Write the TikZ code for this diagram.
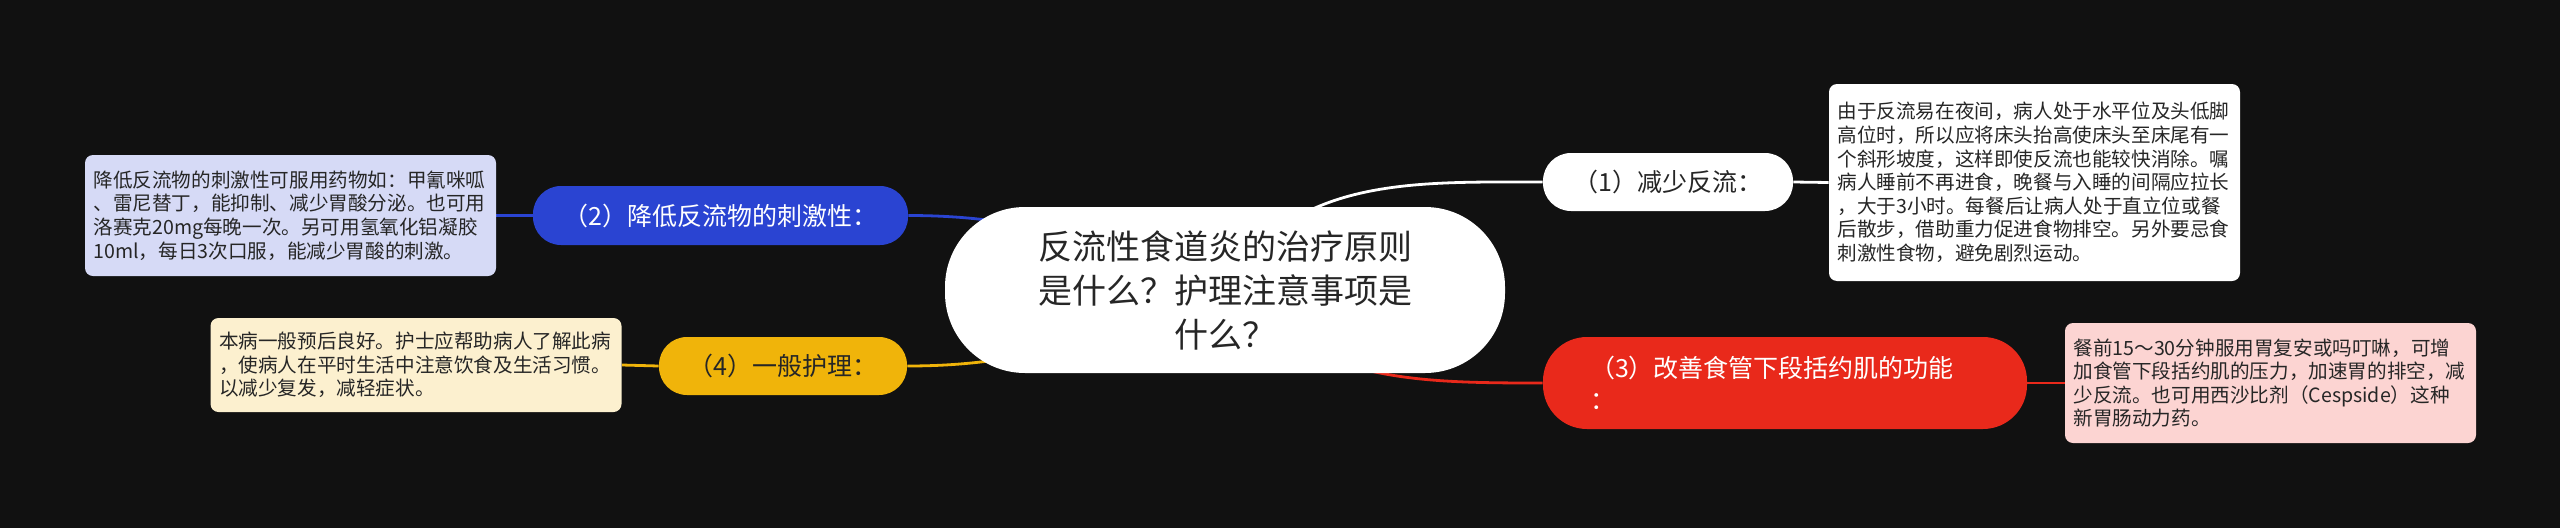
\documentclass[tikz,border=0pt]{standalone}
\usepackage{fontspec}
\setmainfont{Noto Sans CJK SC}
\usetikzlibrary{backgrounds}

\definecolor{bgdark}{HTML}{111111}
\definecolor{textdark}{HTML}{262626}
\definecolor{topicblue}{HTML}{2A44D2}
\definecolor{topicyellow}{HTML}{F0B40A}
\definecolor{topicred}{HTML}{E9291B}
\definecolor{noteblue}{HTML}{D6DAF6}
\definecolor{noteyellow}{HTML}{FCF0CF}
\definecolor{notered}{HTML}{FCD4D2}

\begin{document}
\begin{tikzpicture}[x=0.5pt, y=0.5pt]

        % Setup the styles for the nodes
        \tikzset{root style/.style={fill=white,
                                    text=textdark,
                                    rounded corners=40pt,
                                    inner sep=0pt,
                                    text width=190pt,
                                    align=center,
                                    minimum width=280pt,
                                    minimum height=83pt,
                                    font=\fontsize{17pt}{22pt}\selectfont},
                 topic style/.style={rounded corners=14pt,
                                     inner sep=0pt,
                                     minimum height=29pt,
                                     font=\fontsize{12.5pt}{16pt}\selectfont},
                 note style/.style={rounded corners=4pt,
                                    text=textdark,
                                    inner xsep=4.25pt,
                                    inner ysep=0pt,
                                    text width=197pt,
                                    align=left,
                                    font=\fontsize{9.8pt}{11.8pt}\selectfont}}

        \useasboundingbox (0, 0) rectangle (2560, 527);

        % Draw the nodes
        \node[root style] at (1225, 237) (root)
            {反流性食道炎的治疗原则\\是什么？护理注意事项是\\什么？};

        \node[topic style, fill=white, text=textdark, minimum width=125pt]
            at (1668, 345) (reflux) {（1）减少反流：};
        \node[topic style, fill=topicblue, text=white, minimum width=187.5pt, minimum height=29.5pt]
            at (720.5, 311.5) (irritant) {（2）降低反流物的刺激性：};
        \node[topic style, fill=topicred, text=white, rounded corners=22pt,
              minimum height=46pt, inner xsep=23.5pt, text width=195pt, align=left]
            at (1785, 144) (sphincter) {（3）改善食管下段括约肌的功能\\：};
        \node[topic style, fill=topicyellow, text=textdark, minimum width=124pt]
            at (783, 161) (care) {（4）一般护理：};

        \node[note style, fill=white, minimum height=98.5pt] at (2034.5, 344.5) (refluxnote)
            {由于反流易在夜间，病人处于水平位及头低脚\\
             高位时，所以应将床头抬高使床头至床尾有一\\
             个斜形坡度，这样即使反流也能较快消除。嘱\\
             病人睡前不再进食，晚餐与入睡的间隔应拉长\\
             ，大于3小时。每餐后让病人处于直立位或餐\\
             后散步，借助重力促进食物排空。另外要忌食\\
             刺激性食物，避免剧烈运动。};
        \node[note style, fill=noteblue, minimum height=60.5pt] at (290.5, 311.5) (irritantnote)
            {降低反流物的刺激性可服用药物如：甲氰咪呱\\
             、雷尼替丁，能抑制、减少胃酸分泌。也可用\\
             洛赛克20mg每晚一次。另可用氢氧化铝凝胶\\
             10ml，每日3次口服，能减少胃酸的刺激。};
        \node[note style, fill=notered, minimum height=60pt] at (2270.5, 144) (sphincternote)
            {餐前15～30分钟服用胃复安或吗叮啉，可增\\
             加食管下段括约肌的压力，加速胃的排空，减\\
             少反流。也可用西沙比剂（Cespside）这种\\
             新胃肠动力药。};
        \node[note style, fill=noteyellow, minimum height=47pt] at (416, 162) (carenote)
            {本病一般预后良好。护士应帮助病人了解此病\\
             ，使病人在平时生活中注意饮食及生活习惯。\\
             以减少复发，减轻症状。};

        % Connect the nodes (behind them)
        \begin{scope}[on background layer]
            \fill[bgdark] (-10, -10) rectangle (2570, 537);

            \draw[line width=1.4pt, draw=white]
                (root.center) edge[out=60, in=180] (reflux.west)
                (reflux.east) edge (refluxnote.west);
            \draw[line width=1.4pt, draw=topicblue]
                (root.center) edge[out=160, in=0] (irritant.east)
                (irritant.west) edge (irritantnote.east);
            \draw[line width=1.4pt, draw=topicred]
                (root.center) edge[out=-45, in=180] (sphincter.west)
                (sphincter.east) edge (sphincternote.west);
            \draw[line width=1.4pt, draw=topicyellow]
                (root.center) edge[out=-160, in=0] (care.east)
                (care.west) edge (carenote.east);
        \end{scope}

    \end{tikzpicture}
\end{document}
